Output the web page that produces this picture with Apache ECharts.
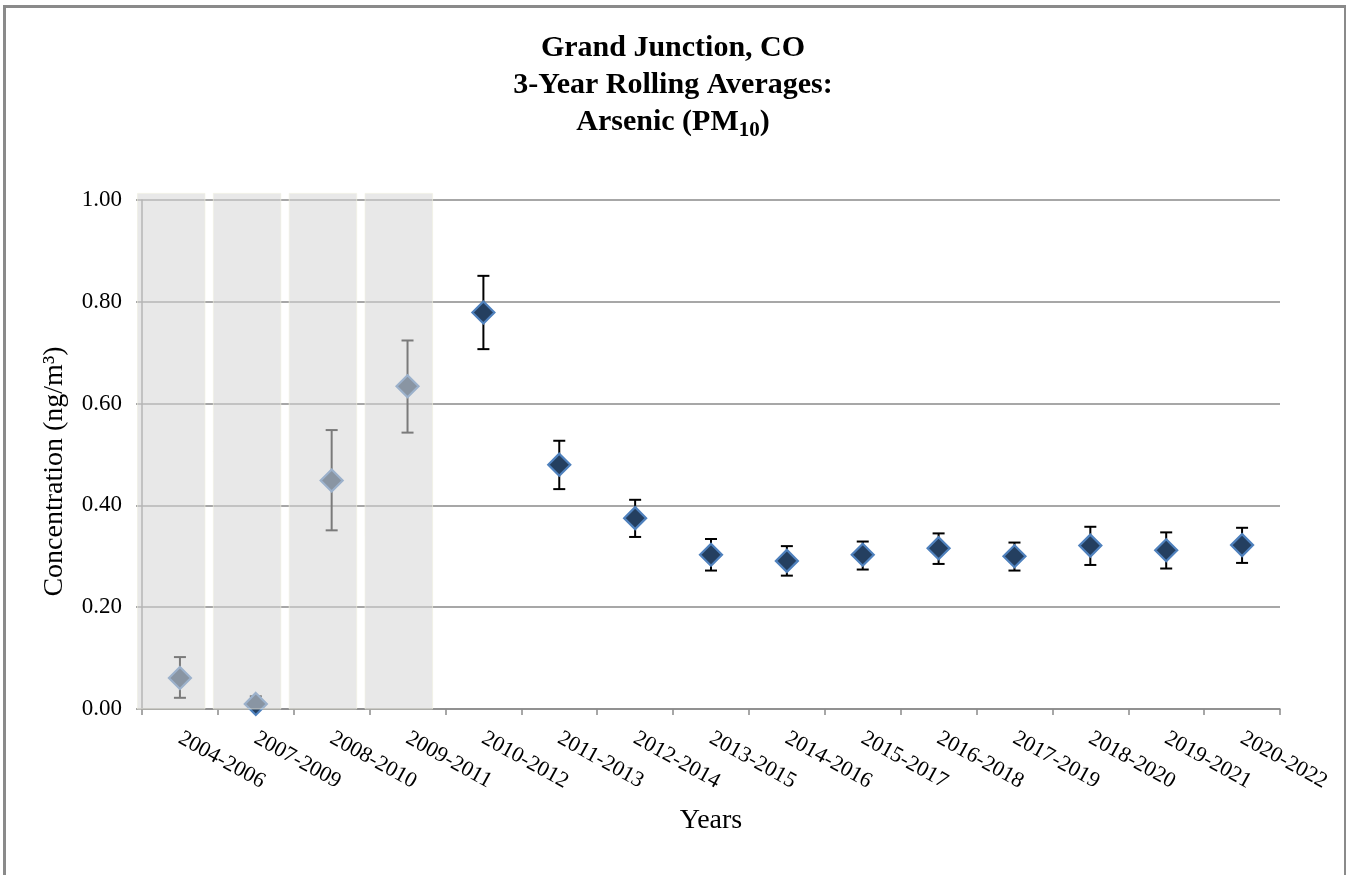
<!DOCTYPE html>
<html><head><meta charset="utf-8">
<script src="https://cdn.jsdelivr.net/npm/echarts@6/dist/echarts.min.js"></script>
<style>html,body{margin:0;padding:0;background:#fff}#c{width:1346px;height:875px}</style>
</head><body><div id="c"></div>
<script>
const categories = ['2004-2006','2007-2009','2008-2010','2009-2011','2010-2012','2011-2013','2012-2014','2013-2015','2014-2016','2015-2017','2016-2018','2017-2019','2018-2020','2019-2021','2020-2022'];
const means  = [0.061, 0.010, 0.449, 0.634, 0.779, 0.480, 0.375, 0.303, 0.291, 0.303, 0.316, 0.300, 0.321, 0.312, 0.322];
const lowers = [0.022, 0.000, 0.351, 0.543, 0.707, 0.432, 0.338, 0.272, 0.262, 0.274, 0.285, 0.272, 0.283, 0.276, 0.287];
const uppers = [0.102, 0.025, 0.548, 0.724, 0.851, 0.527, 0.411, 0.334, 0.320, 0.329, 0.345, 0.327, 0.358, 0.347, 0.356];
const shadedCategories = ['2004-2006','2007-2009','2008-2010','2009-2011'];
const yMin = 0, yMax = 1, yStep = 0.2;

const serif = '"Liberation Serif", "Times New Roman", serif';
const chart = echarts.init(document.getElementById('c'), null, {renderer:'canvas'});

const errData = categories.map((c, i) => [i, lowers[i], uppers[i]]);
const shadeData = shadedCategories.map(c => [categories.indexOf(c)]);

const option = {
  animation: false,
  backgroundColor: '#fff',
  graphic: [{
    type: 'rect', left: 2, top: 4, z: 100, silent: true,
    shape: {width: 1341, height: 900},
    style: {fill: 'none', stroke: '#8a8a8a', lineWidth: 3}
  }],
  title: {
    left: 'center', top: 25,
    text: 'Grand Junction, CO\n3-Year Rolling Averages:\nArsenic (PM{sub|10})',
    textStyle: {
      fontFamily: serif, fontWeight: 'bold', fontSize: 30, color: '#000', lineHeight: 37,
      rich: {
        sub: {fontFamily: serif, fontWeight: 'bold', fontSize: 21, color: '#000', lineHeight: 37, padding: [16, 0, 0, 0]}
      }
    }
  },
  grid: {left: 142, right: 66, top: 200, bottom: 166, containLabel: false},
  xAxis: {
    type: 'category', data: categories, boundaryGap: true,
    name: 'Years', nameLocation: 'middle', nameGap: 98,
    nameTextStyle: {fontFamily: serif, fontSize: 28, color: '#000'},
    axisLine: {show: true, lineStyle: {color: '#8a8a8a', width: 1.5}},
    axisTick: {show: true, length: 6, alignWithLabel: false, lineStyle: {color: '#8a8a8a', width: 1.5}},
    axisLabel: {rotate: -29, interval: 0, margin: 28, fontFamily: serif, fontSize: 22, color: '#000'},
    splitLine: {show: false}
  },
  yAxis: {
    type: 'value', min: yMin, max: yMax, interval: yStep,
    name: 'Concentration (ng/m³)', nameLocation: 'middle', nameGap: 73, nameRotate: 90,
    nameTextStyle: {fontFamily: serif, fontSize: 28, color: '#000', padding: [0, 34, 0, 0]},
    axisLine: {show: true, lineStyle: {color: '#8a8a8a', width: 1.5}},
    axisTick: {show: true, length: 6, lineStyle: {color: '#8a8a8a', width: 1.5}},
    axisLabel: {formatter: v => v.toFixed(2), margin: 20, fontFamily: serif, fontSize: 23, color: '#000'},
    splitLine: {show: true, lineStyle: {color: '#8a8a8a', width: 1.5}}
  },
  series: [
    {
      type: 'custom', name: 'err', data: errData, z: 3,
      encode: {x: 0, y: [1, 2]},
      renderItem: (params, api) => {
        const x = api.value(0);
        const lo = api.coord([x, api.value(1)]);
        const hi = api.coord([x, api.value(2)]);
        const hw = 6;
        const st = {stroke: '#000', lineWidth: 2};
        return {type: 'group', children: [
          {type: 'line', shape: {x1: lo[0], y1: lo[1], x2: hi[0], y2: hi[1]}, style: st},
          {type: 'line', shape: {x1: lo[0]-hw, y1: lo[1], x2: lo[0]+hw, y2: lo[1]}, style: st},
          {type: 'line', shape: {x1: hi[0]-hw, y1: hi[1], x2: hi[0]+hw, y2: hi[1]}, style: st}
        ]};
      }
    },
    {
      type: 'scatter', name: 'mean', data: means, z: 4,
      symbol: 'diamond', symbolSize: [22, 22],
      itemStyle: {color: '#243f60', borderColor: '#4f81bd', borderWidth: 2.2, opacity: 1}
    },
    {
      type: 'custom', name: 'shade', data: shadeData, z: 10, clip: false,
      encode: {x: 0},
      renderItem: (params, api) => {
        const idx = api.value(0);
        const base = api.coord([idx, yMin]);
        const top = api.coord([idx, yMax]);
        const band = api.size([1, 0])[0];
        const h = api.size([0, yMax - yMin])[1];
        const y0 = top[1] - 0.013 * h;
        return {type: 'rect',
          shape: {x: base[0] - 0.56 * band, y: y0, width: 0.89 * band, height: base[1] - y0},
          style: {fill: 'rgba(215,215,215,0.57)', stroke: 'rgba(240,240,225,0.6)', lineWidth: 1}
        };
      }
    }
  ]
};
chart.setOption(option);
</script>
</body></html>
